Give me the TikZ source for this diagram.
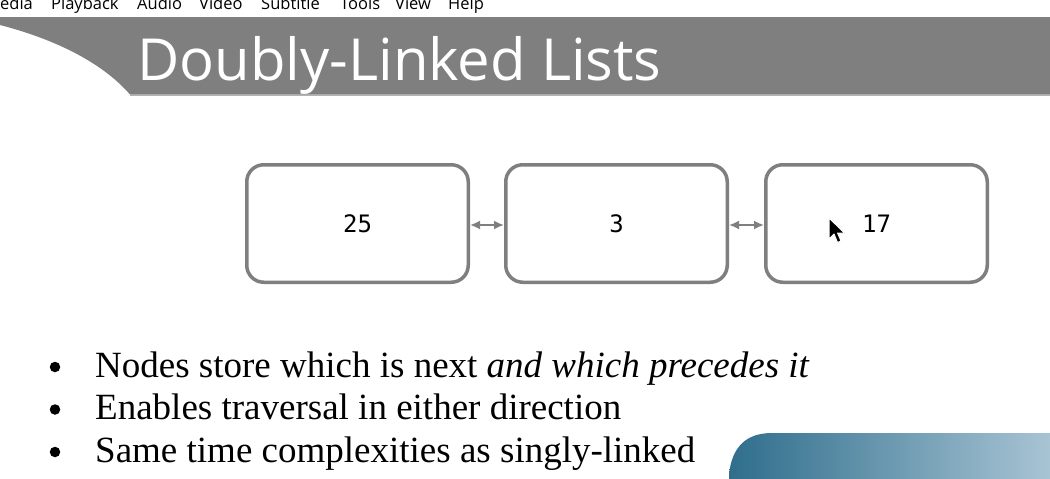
\documentclass[tikz,border=0pt]{standalone}
\usepackage{fontspec}
\setmainfont{Liberation Serif}
\newfontfamily\menufont{Open Sans}
\newfontfamily\titlefont{Open Sans}
\newfontfamily\numfont{DejaVu Sans Mono}
\usetikzlibrary{arrows.meta, positioning, calc}
\usepackage{xcolor}
\definecolor{BannerGray}{HTML}{7F7F80}
\definecolor{BoxGray}{HTML}{7F7F7F}
\definecolor{WaveDark}{HTML}{2F6E8C}
\definecolor{WaveMid}{HTML}{6B9DB6}
\definecolor{WaveLight}{HTML}{A8C4D4}

\begin{document}
\begin{tikzpicture}[
        x=1pt, y=-1pt,
        menu/.style={anchor=base west, inner sep=0pt, font=\menufont\fontsize{16.5}{19}\selectfont, text=black},
        listnode/.style={rectangle, draw=BoxGray, line width=3.5pt, fill=white, rounded corners=17pt, minimum width=221.5pt, minimum height=117.5pt, inner sep=0pt, font=\numfont\fontsize{24}{28}\selectfont},
        link/.style={draw=BoxGray, line width=1.8pt, {Latex[length=10pt,width=9pt]}-{Latex[length=10pt,width=9pt]}},
        bullettext/.style={anchor=base west, inner sep=0pt, font=\fontsize{37}{42}\selectfont},
        dot/.style={circle, fill=black, minimum size=10.5pt, inner sep=0pt}
    ]
        \useasboundingbox (0,0) rectangle (1050,479);
        \fill[white] (0,0) rectangle (1050,479);

        % Menu bar
        \foreach \lbl/\xx in {edia/0, Playback/51, Audio/137, Video/199, Subtitle/261, Tools/340, View/395, Help/448}
            \node[menu] (m\lbl) at (\xx,9.5) {\lbl};

        % Title banner
        \fill[BannerGray] (0,17) -- (1050,17) -- (1050,94.5) -- (130,94.5)
            .. controls (100,60) and (50,38) .. (0,25) -- cycle;
        \draw[BoxGray!60, line width=1pt] (130,95.5) -- (1050,95.5);
        \node[anchor=base west, inner sep=0pt, text=white, font=\titlefont\fontsize{58}{62}\selectfont] (title) at (137,80) {Doubly-Linked Lists};

        % Nodes
        \node (n25) [listnode] at (357.5,223.5) {\raisebox{-2.5pt}{25}};
        \node (n3) [listnode, right=34pt of n25] {\raisebox{-2.5pt}{3}};
        \node (n17) [listnode, right=35pt of n3] {\raisebox{-2.5pt}{17}};

        % Connectors
        \draw [link] ([yshift=-1.5pt]n25.east) -- ([yshift=-1.5pt]n3.west);
        \draw [link] ([yshift=-1.5pt]n3.east) -- ([yshift=-1.5pt]n17.west);

        % Mouse pointer
        \draw[white, fill=black, line width=1pt, line join=round] (829,218) -- ++(0,21) -- ++(5,-5) -- ++(3.5,8.5)
            -- ++(3.5,-1.5) -- ++(-3.5,-8) -- ++(7,0) -- cycle;

        % Bullets
        \node[bullettext] (b1) at (95,377) {Nodes store which is next \textit{and which precedes it}};
        \node[bullettext] (b2) at (95,419.5) {Enables traversal in either direction};
        \node[bullettext] (b3) at (95,462) {Same time complexities as singly-linked};
        \foreach \b in {b1,b2,b3}
            \node[dot] at ($(\b.base west)+(-40,-10)$) {};

        % Corner wave
        \shade[left color=WaveDark, middle color=WaveMid, right color=WaveLight]
            (729,479) -- (729,474) .. controls (732,448) and (745,433) .. (772,433)
            -- (1050,433) -- (1050,479) -- cycle;
    \end{tikzpicture}
\end{document}
